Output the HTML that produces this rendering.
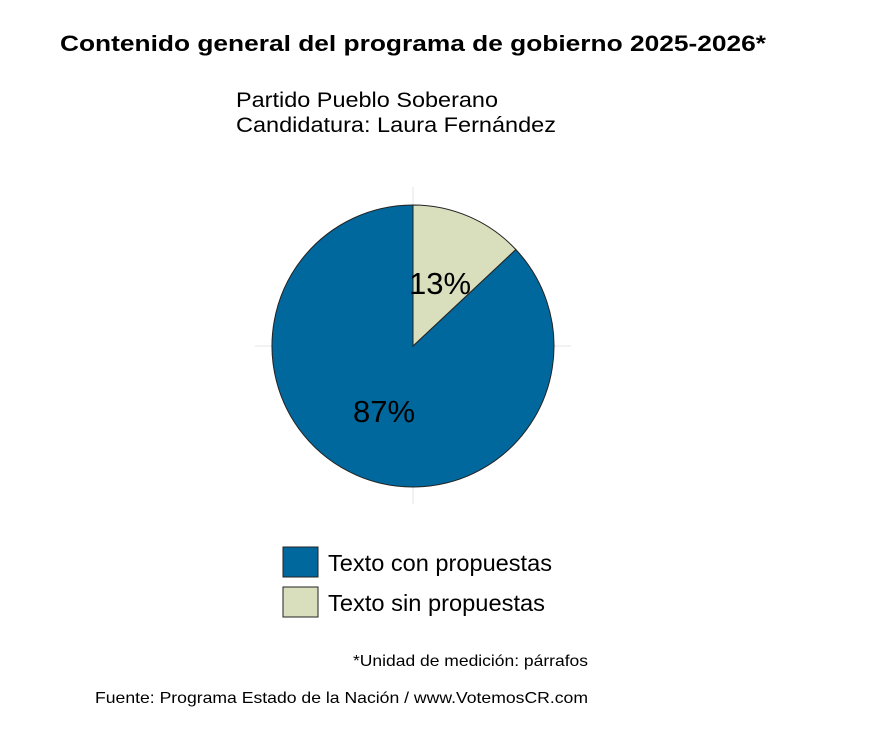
<!DOCTYPE html>
<html><head><meta charset="utf-8"><style>
body{margin:0;background:#fff;}
svg{display:block;font-family:"Liberation Sans",Arial,sans-serif;}
</style></head><body>
<svg width="893" height="740" viewBox="0 0 893 740">
<rect width="893" height="740" fill="#fff"/>
<text x="60" y="51" font-size="22" font-weight="bold" fill="#000" textLength="706" lengthAdjust="spacingAndGlyphs">Contenido general del programa de gobierno 2025-2026*</text>
<text x="236" y="107" font-size="21" fill="#000" textLength="262" lengthAdjust="spacingAndGlyphs">Partido Pueblo Soberano</text>
<text x="236" y="132" font-size="21" fill="#000" textLength="320" lengthAdjust="spacingAndGlyphs">Candidatura: Laura Fernández</text>
<line x1="255" y1="346" x2="571" y2="346" stroke="#e4e4e4" stroke-width="1"/>
<line x1="413" y1="187" x2="413" y2="504" stroke="#e4e4e4" stroke-width="1"/>
<path d="M413,346 L413,205 A141,141 0 1,0 515.8,249.5 Z" fill="#00689d" stroke="#222" stroke-width="1"/>
<path d="M413,346 L413,205 A141,141 0 0,1 515.8,249.5 Z" fill="#d9dfbc" stroke="#222" stroke-width="1"/>
<text x="440" y="294" font-size="31" text-anchor="middle" fill="#000">13%</text>
<text x="384" y="422" font-size="31" text-anchor="middle" fill="#000">87%</text>
<rect x="283" y="547" width="35" height="30" fill="#00689d" stroke="#222" stroke-width="1"/>
<rect x="283" y="587" width="35" height="30" fill="#d9dfbc" stroke="#222" stroke-width="1"/>
<text x="328" y="571" font-size="23" fill="#000" textLength="224" lengthAdjust="spacingAndGlyphs">Texto con propuestas</text>
<text x="328" y="611" font-size="23" fill="#000" textLength="217" lengthAdjust="spacingAndGlyphs">Texto sin propuestas</text>
<text x="353" y="666" font-size="16" fill="#000" textLength="235" lengthAdjust="spacingAndGlyphs">*Unidad de medición: párrafos</text>
<text x="95" y="703" font-size="16" fill="#000" textLength="493" lengthAdjust="spacingAndGlyphs">Fuente: Programa Estado de la Nación / www.VotemosCR.com</text>
</svg>
</body></html>
